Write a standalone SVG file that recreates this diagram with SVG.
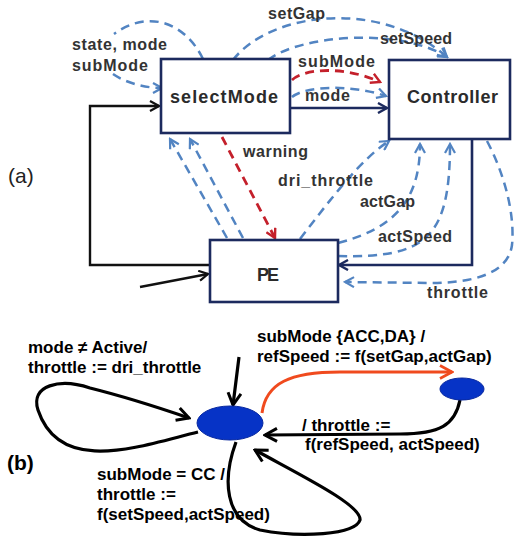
<svg xmlns="http://www.w3.org/2000/svg" width="516" height="537" viewBox="0 0 516 537">
  <style>
    .box { fill: #ffffff; stroke: #1c2a5e; stroke-width: 2.6; }
    .nodeTxt { font-family: "Liberation Sans", Arial, sans-serif; font-weight: bold; font-size: 18px; fill: #2b2b2b; }
    .lbl { font-family: "Liberation Sans", Arial, sans-serif; font-weight: bold; font-size: 16px; fill: #333333; }
    .lblB { font-family: "Liberation Sans", Arial, sans-serif; font-weight: bold; font-size: 17px; fill: #000000; }
    .tag { font-family: "Liberation Sans", Arial, sans-serif; font-size: 21px; fill: #222222; }
    .dashBlue { fill: none; stroke: #5284c2; stroke-width: 2.5; stroke-dasharray: 9 6; marker-end: url(#arrBlue); }
    .dashBlueNoArr { fill: none; stroke: #5284c2; stroke-width: 2.5; stroke-dasharray: 9 6; }
    .dashRed { fill: none; stroke: #c4202b; stroke-width: 2.8; stroke-dasharray: 9 6; marker-end: url(#arrRed); }
    .solidNavy { fill: none; stroke: #1c2a5e; stroke-width: 2.6; marker-end: url(#arrNavy); }
    .solidBlack { fill: none; stroke: #111111; stroke-width: 2.4; marker-end: url(#arrBlack); }
    .bArr { fill: none; stroke: #000000; stroke-width: 3.2; marker-end: url(#arrBigBlack); }
    .state { fill: #0633c6; stroke: #0a2aa0; stroke-width: 1; }
  </style>
  <defs>
    <marker id="arrBlue" viewBox="0 0 12 12" refX="10" refY="6" markerWidth="12" markerHeight="12" markerUnits="userSpaceOnUse" orient="auto">
      <path d="M1,1 L10,6 L1,11" fill="none" stroke="#5284c2" stroke-width="2.2"/>
    </marker>
    <marker id="arrRed" viewBox="0 0 12 12" refX="10" refY="6" markerWidth="12" markerHeight="12" markerUnits="userSpaceOnUse" orient="auto">
      <path d="M1,1 L10,6 L1,11" fill="none" stroke="#c4202b" stroke-width="2.4"/>
    </marker>
    <marker id="arrNavy" viewBox="0 0 12 12" refX="10" refY="6" markerWidth="12" markerHeight="12" markerUnits="userSpaceOnUse" orient="auto">
      <path d="M1,1 L10,6 L1,11" fill="none" stroke="#1c2a5e" stroke-width="2.4"/>
    </marker>
    <marker id="arrBlack" viewBox="0 0 12 12" refX="10" refY="6" markerWidth="12" markerHeight="12" markerUnits="userSpaceOnUse" orient="auto">
      <path d="M1,1 L10,6 L1,11" fill="none" stroke="#111111" stroke-width="2.2"/>
    </marker>
    <marker id="arrBigBlack" viewBox="0 0 16 16" refX="14" refY="8" markerWidth="16" markerHeight="16" markerUnits="userSpaceOnUse" orient="auto">
      <path d="M2,1.5 L14,8 L2,14.5" fill="none" stroke="#000000" stroke-width="3"/>
    </marker>
    <marker id="arrOrange" viewBox="0 0 16 16" refX="14" refY="8" markerWidth="16" markerHeight="16" markerUnits="userSpaceOnUse" orient="auto">
      <path d="M2,1.5 L14,8 L2,14.5" fill="none" stroke="#f04a1e" stroke-width="2.6"/>
    </marker>
  </defs>

  <rect width="516" height="537" fill="#ffffff"/>

  <!-- (a) component view -->
  <g id="connectors-a">
    <!-- selectMode self feedback: state, mode, subMode -->
    <path class="dashBlueNoArr" d="M203,59 C186,24 150,8 114,34"/>
    <path class="dashBlue" d="M113,74 C126,83 145,88 162,88"/>
    <!-- setGap / setSpeed -->
    <path class="dashBlue" d="M233,60 C270,12 380,-2 447,57"/>
    <path class="dashBlue" d="M268,60 C300,35 400,27 447,57"/>
    <!-- subMode, mode, solid link -->
    <path class="dashRed" d="M292,80 C305,68 345,66 380,82"/>
    <path class="dashBlue" d="M292,97 C305,86 350,84 386,96"/>
    <path class="solidNavy" d="M291,108 L387,108"/>
    <!-- PE feedback to selectMode -->
    <path class="dashBlue" d="M227,238 L170,139"/>
    <path class="dashBlue" d="M243,238 L190,139"/>
    <!-- warning -->
    <path class="dashRed" d="M222,137 L275,238"/>
    <!-- PE to Controller -->
    <path class="dashBlue" d="M300,239 C330,200 360,160 389,141"/>
    <path class="dashBlue" d="M338,243 C395,228 420,200 420,144"/>
    <path class="dashBlue" d="M338,256 C425,258 450,240 450,144"/>
    <!-- throttle back to PE -->
    <path class="dashBlue" d="M487,141 C505,175 515,215 512,245 C508,275 470,283 430,283 L345,282"/>
    <!-- solid loops -->
    <path class="solidBlack" d="M210,265 L90,265 L90,106 L159,106"/>
    <path class="solidNavy" d="M472,140 L472,265 L339,265"/>
    <path class="solidBlack" d="M140,287 L208,274"/>
  </g>

  <g id="node-selectMode">
    <rect class="box" x="161" y="59" width="129" height="74"/>
    <text class="nodeTxt" x="170" y="103" textLength="108" lengthAdjust="spacing">selectMode</text>
  </g>
  <g id="node-Controller">
    <rect class="box" x="389" y="60" width="121" height="79"/>
    <text class="nodeTxt" x="407" y="103" textLength="91" lengthAdjust="spacing">Controller</text>
  </g>
  <g id="node-PE">
    <rect class="box" x="210" y="240" width="128" height="62"/>
    <text class="nodeTxt" x="257" y="281" textLength="22" lengthAdjust="spacing">PE</text>
  </g>

  <g id="labels-a">
    <text class="lbl" x="72" y="50" textLength="95" lengthAdjust="spacing">state, mode</text>
    <text class="lbl" x="72" y="71" textLength="76" lengthAdjust="spacing">subMode</text>
    <text class="lbl" x="268" y="19" textLength="57" lengthAdjust="spacing">setGap</text>
    <text class="lbl" x="380" y="44" textLength="72" lengthAdjust="spacing">setSpeed</text>
    <text class="lbl" x="298" y="67" textLength="77" lengthAdjust="spacing">subMode</text>
    <text class="lbl" x="305" y="101" textLength="45" lengthAdjust="spacing">mode</text>
    <text class="lbl" x="243" y="157" textLength="65" lengthAdjust="spacing">warning</text>
    <text class="lbl" x="278" y="186" textLength="95" lengthAdjust="spacing">dri_throttle</text>
    <text class="lbl" x="360" y="207" textLength="55" lengthAdjust="spacing">actGap</text>
    <text class="lbl" x="378" y="242" textLength="74" lengthAdjust="spacing">actSpeed</text>
    <text class="lbl" x="427" y="298" textLength="61" lengthAdjust="spacing">throttle</text>
    <text class="tag" x="8" y="183">(a)</text>
  </g>

  <!-- (b) state machine -->
  <g id="connectors-b">
    <!-- initial transition -->
    <path class="bArr" d="M239,357 L233,405"/>
    <!-- self loop on the left -->
    <path class="bArr" d="M198,432 C140,446 60,476 38,410 C30,385 60,378 90,388 C130,398 160,408 189,418"/>
    <!-- subMode in {ACC,DA} -->
    <path fill="none" stroke="#f04a1e" stroke-width="3" marker-end="url(#arrOrange)" d="M262,413 C266,383 290,372 340,372 L452,372"/>
    <!-- return from the right state -->
    <path class="bArr" d="M460,400 C455,425 440,434 400,434 L265,435"/>
    <!-- lower self loop -->
    <path class="bArr" d="M236,442 C222,480 225,520 260,530 C300,538 355,535 360,520 C362,505 300,475 255,450"/>
  </g>

  <g id="node-s0">
    <ellipse class="state" cx="230" cy="423" rx="33" ry="17"/>
  </g>
  <g id="node-s1">
    <ellipse class="state" cx="462" cy="389" rx="22" ry="11"/>
  </g>

  <g id="labels-b">
    <text class="lblB" x="28" y="353">mode ≠ Active/</text>
    <text class="lblB" x="28" y="373">throttle := dri_throttle</text>
    <text class="lblB" x="257" y="342">subMode {ACC,DA} /</text>
    <text class="lblB" x="257" y="362">refSpeed := f(setGap,actGap)</text>
    <text class="lblB" x="302" y="431">/ throttle :=</text>
    <text class="lblB" x="305" y="450">f(refSpeed, actSpeed)</text>
    <text class="lblB" x="97" y="480">subMode = CC /</text>
    <text class="lblB" x="97" y="500">throttle :=</text>
    <text class="lblB" x="97" y="520">f(setSpeed,actSpeed)</text>
    <text class="lblB" x="7" y="470" style="font-size:21px">(b)</text>
  </g>
</svg>
